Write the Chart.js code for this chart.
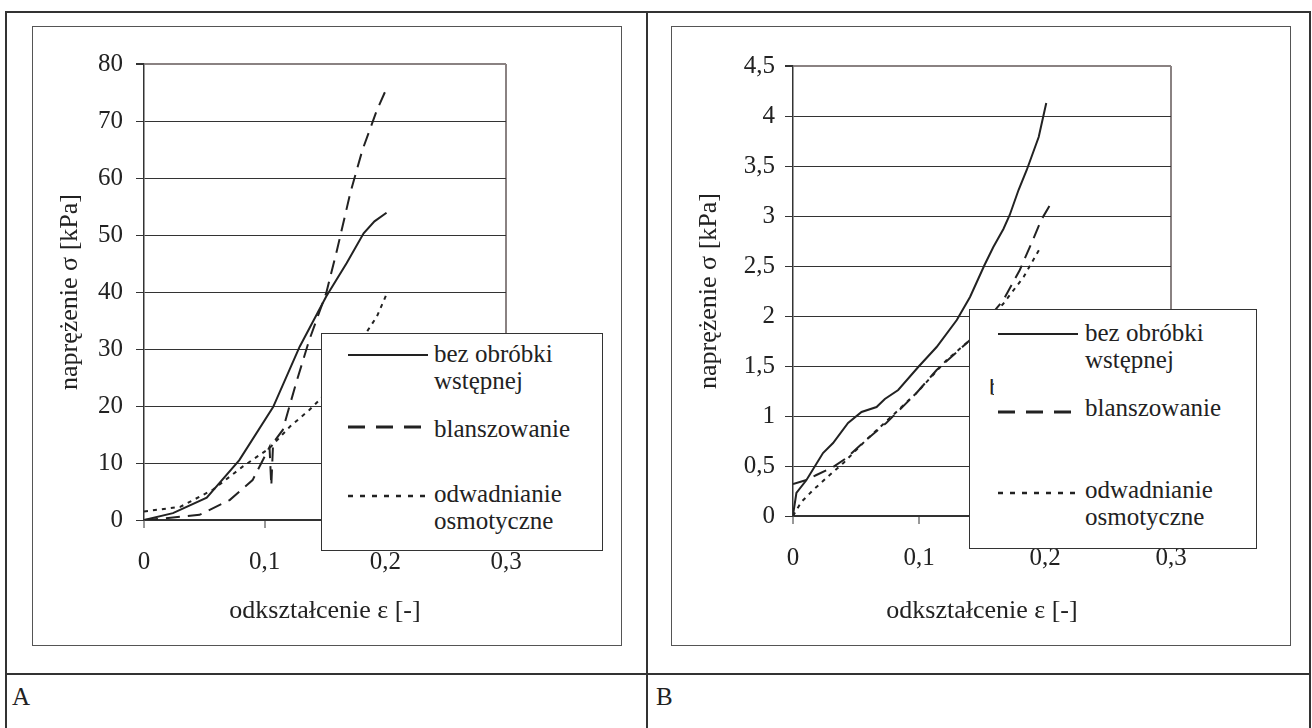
<!DOCTYPE html>
<html><head><meta charset="utf-8">
<script src="https://cdn.jsdelivr.net/npm/chart.js@4.4.1/dist/chart.umd.min.js"></script>
<style>
body{margin:0;width:1312px;height:728px;overflow:hidden;background:#fff;font-family:'Liberation Serif',serif;color:#222;position:relative}
.ln{position:absolute;background:#333}
.frame{position:absolute;border:1px solid #555;box-sizing:border-box}
canvas{position:absolute}
.legend{position:absolute;background:#fff;border:1px solid #333;box-sizing:border-box}
.lt{position:absolute;font-size:25px;line-height:27px;white-space:nowrap}
svg{position:absolute;overflow:visible}
.cap{position:absolute;font-size:25px;line-height:28px}
</style></head>
<body>
<div class="ln" style="left:5px;top:11px;width:1306px;height:2px"></div>
<div class="ln" style="left:5px;top:11px;width:2px;height:720px"></div>
<div class="ln" style="left:1309px;top:11px;width:2px;height:720px"></div>
<div class="ln" style="left:646px;top:11px;width:2px;height:720px"></div>
<div class="ln" style="left:5px;top:673px;width:1306px;height:2px"></div>
<div class="cap" style="left:12px;top:683px">A</div>
<div class="cap" style="left:656px;top:683px">B</div>

<div class="frame" style="left:32px;top:26px;width:590px;height:620px"></div>
<div class="frame" style="left:671px;top:26px;width:620px;height:620px"></div>
<canvas id="cA" width="587" height="617" style="left:33px;top:27px;width:587px;height:617px"></canvas>
<canvas id="cB" width="617" height="617" style="left:672px;top:27px;width:617px;height:617px"></canvas>

<!-- legend A -->
<div class="legend" style="left:321px;top:333px;width:282px;height:218px"></div>
<div class="lt" style="left:434px;top:340px">bez obróbki<br>wstępnej</div>
<div class="lt" style="left:434px;top:415px">blanszowanie</div>
<div class="lt" style="left:434px;top:480px">odwadnianie<br>osmotyczne</div>

<!-- legend B -->
<div class="legend" style="left:969px;top:309px;width:288px;height:240px"></div>
<div style="position:absolute;left:989px;top:379px;width:5px;height:17px;overflow:hidden"><span class="lt" style="left:0;top:-6px">b</span></div>
<div class="lt" style="left:1085px;top:319px">bez obróbki<br>wstępnej</div>
<div class="lt" style="left:1085px;top:394px">blanszowanie</div>
<div class="lt" style="left:1085px;top:476px">odwadnianie<br>osmotyczne</div>

<svg style="left:0;top:0" width="1" height="1">
  <line x1="348" y1="355" x2="428" y2="355" stroke="#222" stroke-width="2"/>
  <line x1="348" y1="427" x2="425" y2="427" stroke="#222" stroke-width="3" stroke-dasharray="17 11"/>
  <line x1="348" y1="496" x2="430" y2="496" stroke="#222" stroke-width="2.5" stroke-dasharray="5 7"/>
  <line x1="998" y1="334" x2="1078" y2="334" stroke="#222" stroke-width="2"/>
  <line x1="998" y1="412" x2="1075" y2="412" stroke="#222" stroke-width="3" stroke-dasharray="17 11"/>
  <line x1="998" y1="493" x2="1080" y2="493" stroke="#222" stroke-width="2.5" stroke-dasharray="5 7"/>
</svg>

<script>
const seriesNames = ['bez obróbki wstępnej', 'blanszowanie', 'odwadnianie osmotyczne'];
const xTitle = 'odkształcenie ε [-]';
const yTitle = 'naprężenie σ [kPa]';

// A
const epsA_bez = [0, 0.024, 0.052, 0.079, 0.107, 0.129, 0.151, 0.168, 0.182, 0.191, 0.201];
const sigA_bez = [0, 1.2, 3.9, 10.5, 19.8, 30.4, 39.2, 45.1, 50.3, 52.4, 53.9];
const epsA_bla = [0, 0.013, 0.046, 0.071, 0.09, 0.104, 0.1055, 0.107, 0.115, 0.126, 0.137, 0.151, 0.16, 0.171, 0.181, 0.193, 0.201];
const sigA_bla = [0, 0.2, 0.9, 3.5, 7.0, 12.8, 6.0, 13.5, 15.8, 24.0, 31.6, 39.8, 47.4, 57.4, 64.9, 71.9, 75.7];
const epsA_osm = [0, 0.03, 0.057, 0.082, 0.104, 0.121, 0.137, 0.147, 0.184, 0.193, 0.202];
const sigA_osm = [1.5, 2.3, 5.3, 9.4, 12.6, 16.4, 19.3, 21.4, 32.8, 35.7, 40.1];

// B
const epsB_bez = [0, 0.0027, 0.0107, 0.0238, 0.0318, 0.0437, 0.0544, 0.0663, 0.0729, 0.0835, 0.0994, 0.114, 0.13, 0.1405, 0.152, 0.159, 0.167, 0.172, 0.179, 0.1855, 0.195, 0.201];
const sigB_bez = [0.01, 0.23, 0.36, 0.63, 0.73, 0.93, 1.04, 1.09, 1.17, 1.26, 1.49, 1.69, 1.96, 2.19, 2.51, 2.69, 2.87, 3.01, 3.26, 3.46, 3.79, 4.13];
const epsB_bla = [0, 0.0107, 0.0186, 0.0318, 0.0424, 0.058, 0.074, 0.082, 0.098, 0.114, 0.13, 0.1405, 0.167, 0.18, 0.189, 0.197, 0.2035];
const sigB_bla = [0.32, 0.36, 0.41, 0.49, 0.58, 0.76, 0.93, 1.03, 1.23, 1.46, 1.64, 1.76, 2.16, 2.46, 2.72, 2.96, 3.1];
const epsB_osm = [0, 0.0066, 0.016, 0.0265, 0.04, 0.058, 0.0794, 0.098, 0.122, 0.1405, 0.1667, 0.183, 0.197];
const sigB_osm = [0, 0.14, 0.26, 0.38, 0.53, 0.76, 1.01, 1.23, 1.56, 1.76, 2.12, 2.39, 2.7];

const INK = '#222';
const FRAME = '#8a8282';
const comma = v => String(+(+v).toFixed(2)).replace('.', ',');
const pts = (xs, ys) => xs.map((x, i) => ({ x, y: ys[i] }));

Chart.defaults.font.family = "'Liberation Serif', serif";
Chart.defaults.font.size = 25;
Chart.defaults.color = INK;

function sets(a, b, c) {
  return [
    { label: seriesNames[0], data: a, borderColor: INK, borderWidth: 2 },
    { label: seriesNames[1], data: b, borderColor: INK, borderWidth: 2, borderDash: [14, 8] },
    { label: seriesNames[2], data: c, borderColor: INK, borderWidth: 2, borderDash: [4, 5] }
  ].map(d => ({ ...d, showLine: true, pointRadius: 0, tension: 0, fill: false }));
}

function opts(yMax, yStep, lay) {
  return {
    responsive: false,
    animation: false,
    layout: { padding: { top: lay.top, right: lay.right, left: 0, bottom: 0 } },
    plugins: { legend: { display: false }, tooltip: { enabled: false } },
    scales: {
      x: {
        type: 'linear', min: 0, max: 0.3,
        afterFit: s => { s.height = lay.xh; },
        ticks: { stepSize: 0.1, padding: 19, callback: comma, maxRotation: 0 },
        grid: {
          color: c => c.tick && Math.abs(c.tick.value - 0.3) < 1e-6 ? FRAME : 'rgba(0,0,0,0)',
          lineWidth: 2, tickColor: '#333', tickLength: 8, tickWidth: 1
        },
        border: { color: '#333', width: 1.5 },
        title: { display: true, text: xTitle, font: { size: 26 }, padding: { top: 0, bottom: 17 } }
      },
      y: {
        min: 0, max: yMax,
        afterFit: s => { s.width = lay.yw; },
        ticks: { stepSize: yStep, padding: lay.tp, callback: comma },
        grid: {
          color: c => c.tick && Math.abs(c.tick.value - yMax) < 1e-6 ? FRAME : '#333',
          lineWidth: c => c.tick && Math.abs(c.tick.value - yMax) < 1e-6 ? 2 : 1,
          tickColor: '#333', tickLength: 8
        },
        border: { color: '#333', width: 1.5 },
        title: { display: true, text: yTitle, font: { size: 26 }, padding: { top: 22, bottom: 0 } }
      }
    }
  };
}

new Chart(document.getElementById('cA'), {
  type: 'scatter',
  data: { datasets: sets(pts(epsA_bez, sigA_bez), pts(epsA_bla, sigA_bla), pts(epsA_osm, sigA_osm)) },
  options: opts(80, 10, { top: 37, right: 114, yw: 111, xh: 124, tp: 13 })
});

new Chart(document.getElementById('cB'), {
  type: 'scatter',
  data: { datasets: sets(pts(epsB_bez, sigB_bez), pts(epsB_bla, sigB_bla), pts(epsB_osm, sigB_osm)) },
  options: opts(4.5, 0.5, { top: 39, right: 118, yw: 121, xh: 128, tp: 10 })
});
</script>
</body></html>
